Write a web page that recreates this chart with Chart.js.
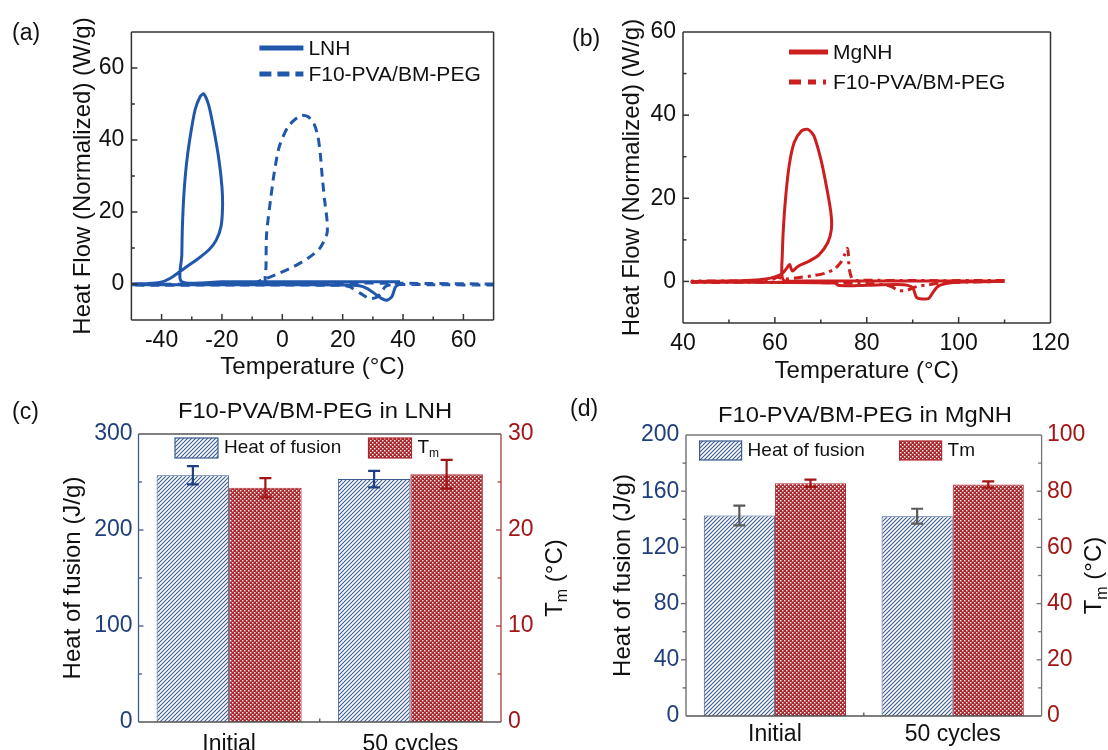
<!DOCTYPE html>
<html>
<head>
<meta charset="utf-8">
<script src="https://cdn.jsdelivr.net/npm/chart.js@4.4.0/dist/chart.umd.min.js"></script>
<style>
body { margin: 0; background: #fff; width: 1108px; height: 750px; overflow: hidden; position: relative;
       font-family: 'Liberation Sans', Arial, sans-serif; color: #111; }
canvas { position: absolute; }
.lbl { position: absolute; font-size: 23px; line-height: 23px; white-space: nowrap; }
.ttl { position: absolute; font-size: 22px; line-height: 22px; width: 420px; text-align: center; white-space: nowrap;
       transform: scaleX(1.08); }
</style>
</head>
<body>
<canvas id="ca" width="554" height="390" style="left:0;top:0"></canvas>
<canvas id="cb" width="554" height="390" style="left:554px;top:0"></canvas>
<canvas id="cc" width="600" height="360" style="left:0;top:390px"></canvas>
<canvas id="cd" width="554" height="360" style="left:554px;top:390px"></canvas>
<div class="lbl" style="left:12px;top:21px">(a)</div>
<div class="lbl" style="left:572px;top:27px">(b)</div>
<div class="lbl" style="left:12px;top:400px">(c)</div>
<div class="lbl" style="left:570px;top:397px">(d)</div>
<div class="ttl" style="left:105px;top:400px">F10-PVA/BM-PEG in LNH</div>
<div class="ttl" style="left:655px;top:404px">F10-PVA/BM-PEG in MgNH</div>
<script>
// (a) LNH loop, cooling then heating
var lnhTemp = [39, 20, 0, -20, -33.4, -33.3, -33.1, -32.6, -31.8, -30.7, -28.9, -27.2, -26.0, -24.3, -22.5, -21.0, -20.0, -19.8, -20.3, -21.9, -24.3, -27.8, -32.4, -37.1, -40.6, -45, -50,
               -50, -40, -20, 0, 20, 25.5, 28, 30.5, 32.8, 34.6, 36.3, 37.5, 39];
var lnhFlow = [0.6, 0.6, 0.6, 0.6, 0.7, 8, 16, 25, 33, 40, 48.4, 52.1, 52.8, 49.4, 42, 34.5, 27, 21.5, 16, 12.2, 9.5, 7.1, 4.4, 1.6, 0.4, 0.1, 0,
               -0.2, -0.2, -0.2, -0.2, -0.3, -0.5, -1.2, -2.6, -4.0, -4.5, -3.5, -0.8, 0];
var lnhPegTemp = [70, 40, 20, 0, -5.4, -5.4, -5.2, -3.9, -2.7, -1.0, 2.0, 6.0, 8.5, 10.5, 11.8, 12.6, 13.2, 14.0, 14.8, 14.8, 12.4, 8.4, 3.7, -1.0, -4.5, -6.8, -9.0, -20, -35, -50,
                  -50, -20, 0, 20, 22.4, 25.9, 28.8, 31.0, 32.8, 34.0, 36.3, 50, 70];
var lnhPegFlow = [0, 0.2, 0.3, 0.4, 0.5, 5, 14, 23.4, 30.8, 38.2, 43.8, 46.8, 46.5, 44.5, 41, 36, 30, 23.4, 17.8, 14.0, 9.9, 7.1, 4.8, 3.0, 1.8, 1.1, 0.4, 0, -0.1, -0.1,
                  -0.3, -0.3, -0.3, -0.4, -0.8, -2.6, -4.0, -3.8, -2.5, -0.8, -0.2, -0.2, -0.3];

// (b) MgNH loop
var mgnhTemp = [110, 90, 75, 65, 62, 61.5, 61.6, 61.8, 62.3, 63.1, 64.2, 65.8, 67.2, 68.5, 70.0, 71.2, 72.2, 72.3, 71.5, 69.6, 67.3, 65.0, 63.8, 63.2, 62.6, 61.5, 60, 58, 55, 50, 42,
                42, 55, 70, 73, 74, 80, 88, 90, 90.8, 92, 93.5, 94.3, 95.5, 98, 103, 110];
var mgnhFlow = [0.1, 0.1, 0.1, 0.1, 0.2, 2, 6, 11.7, 19.7, 27.8, 33.4, 36.2, 36.6, 35, 29.4, 23, 16.5, 12.5, 9.3, 6.4, 4.8, 3.6, 2.5, 4.1, 3.2, 1.8, 1.1, 0.6, 0.3, 0.1, 0,
                -0.2, -0.2, -0.3, -0.4, -1.0, -0.9, -0.8, -1.5, -3.8, -4.2, -4.1, -2.8, -1.2, -0.4, -0.1, 0];
var mgnhPegTemp = [110, 90, 80, 77, 76.2, 76.0, 75.8, 75.2, 74.3, 73, 71, 68.5, 65, 62, 60.5, 59.5, 57, 50, 42,
                   42, 60, 70, 80, 84, 85.5, 87, 88.8, 91, 93.5, 96, 100, 110];
var mgnhPegFlow = [0.2, 0.2, 0.3, 0.4, 3, 6.5, 8, 6.5, 4.5, 3, 2, 1.4, 0.9, 0.6, 1.0, 0.5, 0.2, 0.1, 0.1,
                   -0.2, -0.2, -0.3, -0.5, -0.8, -1.3, -2.2, -2.1, -1.2, -0.8, -0.4, -0.2, 0];

// (c), (d) bars
var cycleLabels = ['Initial', '50 cycles'];
var lnhHeat = [257, 253], lnhHeatErr = [9.5, 8.5];
var lnhTm = [24.4, 25.8], lnhTmErr = [1.0, 1.5];
var mgnhHeat = [142.7, 142.2], mgnhHeatErr = [7, 5.3];
var mgnhTm = [82.8, 82.4], mgnhTmErr = [1.3, 1.1];

var FONT = "'Liberation Sans', Arial, sans-serif";
var BLUE = '#2057ab', RED = '#cc1e1e';
var AXBLUE = '#1f3f7c', AXRED = '#a31515';
Chart.defaults.font.family = FONT;
Chart.defaults.color = '#111';

function pts(xs, ys) {
    return xs.map(function(x, i) { return {x: x, y: ys[i]}; });
}

function hatch() {
    var c = document.createElement('canvas');
    c.width = 4; c.height = 4;
    var g = c.getContext('2d');
    g.fillStyle = '#fff'; g.fillRect(0, 0, 4, 4);
    g.strokeStyle = '#3a5a90'; g.lineWidth = 1.1;
    g.beginPath();
    g.moveTo(0, 4); g.lineTo(4, 0);
    g.moveTo(-2, 2); g.lineTo(2, -2);
    g.moveTo(2, 6); g.lineTo(6, 2);
    g.stroke();
    return g.createPattern(c, 'repeat');
}

function checks() {
    var c = document.createElement('canvas');
    c.width = 4; c.height = 4;
    var g = c.getContext('2d');
    g.fillStyle = '#a8282e'; g.fillRect(0, 0, 4, 4);
    g.fillStyle = '#fff';
    g.fillRect(0, 0, 1.4, 1.4);
    g.fillRect(2, 2, 1.4, 1.4);
    return g.createPattern(c, 'repeat');
}

function subText(ctx, x, y, base, sub, rest, size) {
    ctx.font = size + 'px ' + FONT;
    ctx.fillText(base, x, y);
    var w = ctx.measureText(base).width;
    ctx.font = Math.round(size * 0.65) + 'px ' + FONT;
    ctx.fillText(sub, x + w, y + size * 0.32);
    w += ctx.measureText(sub).width;
    if (rest) {
        ctx.font = size + 'px ' + FONT;
        ctx.fillText(rest, x + w, y);
    }
}

// box and tick marks
var frame = {
    id: 'frame',
    afterDraw: function(chart, args, o) {
        var ctx = chart.ctx, a = chart.chartArea;
        ctx.save();
        ctx.lineWidth = o.width || 1.5;
        var e = o.edges;
        function seg(x1, y1, x2, y2, col) {
            ctx.strokeStyle = col;
            ctx.beginPath(); ctx.moveTo(x1, y1); ctx.lineTo(x2, y2); ctx.stroke();
        }
        seg(a.left, a.top, a.right, a.top, e.top);
        seg(a.left, a.bottom, a.right, a.bottom, e.bottom);
        seg(a.left, a.top, a.left, a.bottom, e.left);
        seg(a.right, a.top, a.right, a.bottom, e.right);
        Object.keys(chart.scales).forEach(function(id) {
            var s = chart.scales[id];
            var sign = ((o.dirs && o.dirs[id]) || 'in') === 'in' ? 1 : -1;
            var col = (o.tickColors && o.tickColors[id]) || e[s.position];
            if (s.type === 'category') {
                // one mark between the two groups
                var n = s.ticks.length;
                for (var k = 1; k < n; k++) {
                    var m = (s.getPixelForValue(k - 1) + s.getPixelForValue(k)) / 2;
                    seg(m, a.bottom, m, a.bottom - sign * o.minor, col);
                }
                return;
            }
            s.ticks.forEach(function(t) {
                var p = s.getPixelForValue(t.value);
                var len = t.label === '' ? o.minor : o.major;
                if (s.position === 'bottom') {
                    if (p <= a.left + 1 || p >= a.right - 1) return;
                    seg(p, a.bottom, p, a.bottom - sign * len, col);
                } else if (s.position === 'left') {
                    if (p <= a.top + 1 || p >= a.bottom - 1) return;
                    seg(a.left, p, a.left + sign * len, p, col);
                } else if (s.position === 'right') {
                    if (p <= a.top + 1 || p >= a.bottom - 1) return;
                    seg(a.right, p, a.right - sign * len, p, col);
                }
            });
        });
        ctx.restore();
    }
};

var lineLegend = {
    id: 'lineLegend',
    afterDraw: function(chart, args, o) {
        if (!o.rows) return;
        var ctx = chart.ctx, a = chart.chartArea;
        ctx.save();
        ctx.textBaseline = 'middle';
        ctx.font = o.size + 'px ' + FONT;
        o.rows.forEach(function(r, i) {
            var ds = chart.data.datasets[i];
            var y = a.top + r;
            ctx.strokeStyle = ds.borderColor;
            ctx.lineWidth = 5;
            ctx.setLineDash(o.dash[i]);
            ctx.beginPath();
            ctx.moveTo(a.left + o.x0, y); ctx.lineTo(a.left + o.x1, y);
            ctx.stroke();
            ctx.setLineDash([]);
            ctx.fillStyle = '#111';
            ctx.fillText(ds.label, a.left + o.tx, y + 1);
        });
        ctx.restore();
    }
};

var barLegend = {
    id: 'barLegend',
    afterDraw: function(chart, args, o) {
        if (!o.items) return;
        var ctx = chart.ctx, a = chart.chartArea;
        ctx.save();
        ctx.textBaseline = 'middle';
        o.items.forEach(function(it, i) {
            var ds = chart.data.datasets[i];
            var x = a.left + it.x, y = a.top + o.y;
            ctx.fillStyle = ds.backgroundColor;
            ctx.fillRect(x, y, o.w, o.h);
            ctx.strokeStyle = ds.borderColor; ctx.lineWidth = 1.2;
            ctx.strokeRect(x, y, o.w, o.h);
            ctx.fillStyle = '#111';
            if (it.sub) subText(ctx, x + o.w + 6, y + o.h / 2, it.text, it.sub, '', o.size);
            else { ctx.font = o.size + 'px ' + FONT; ctx.fillText(it.text, x + o.w + 6, y + o.h / 2); }
        });
        ctx.restore();
    }
};

var errorBars = {
    id: 'errorBars',
    afterDatasetsDraw: function(chart, args, o) {
        if (!o.sets) return;
        var ctx = chart.ctx;
        ctx.save();
        ctx.lineWidth = 2.2;
        o.sets.forEach(function(set, di) {
            var meta = chart.getDatasetMeta(di);
            var s = chart.scales[meta.yAxisID];
            var vals = chart.data.datasets[di].data;
            ctx.strokeStyle = set.color;
            meta.data.forEach(function(bar, i) {
                var yt = s.getPixelForValue(vals[i] + set.err[i]);
                var yb = s.getPixelForValue(vals[i] - set.err[i]);
                ctx.beginPath();
                ctx.moveTo(bar.x, yt); ctx.lineTo(bar.x, yb);
                ctx.moveTo(bar.x - 6, yt); ctx.lineTo(bar.x + 6, yt);
                ctx.moveTo(bar.x - 6, yb); ctx.lineTo(bar.x + 6, yb);
                ctx.stroke();
            });
        });
        ctx.restore();
    }
};

var rightTitle = {
    id: 'rightTitle',
    afterDraw: function(chart, args, o) {
        if (!o.x) return;
        var ctx = chart.ctx, a = chart.chartArea;
        ctx.save();
        ctx.translate(o.x, (a.top + a.bottom) / 2);
        ctx.rotate(-Math.PI / 2);
        ctx.textBaseline = 'middle';
        ctx.fillStyle = '#111';
        ctx.font = '24px ' + FONT;
        var w = ctx.measureText('T').width + ctx.measureText(' (°C)').width;
        ctx.font = '16px ' + FONT;
        w += ctx.measureText('m').width;
        subText(ctx, -w / 2, 0, 'T', 'm', ' (°C)', 24);
        ctx.restore();
    }
};

Chart.register(frame, lineLegend, barLegend, errorBars, rightTitle);

function tickCb(step, lo, hi) {
    return function(v) {
        return (Math.abs(v % step) < 1e-6 && v >= lo && v <= hi) ? String(v) : '';
    };
}

var NOGRID = { display: false, drawTicks: false };

function dscChart(id, sets, xr, yr, pad, yw, xh, legend, xtitlePad, ytitlePad) {
    return new Chart(document.getElementById(id), {
        type: 'scatter',
        data: { datasets: sets },
        options: {
            responsive: false,
            animation: false,
            layout: { padding: pad },
            elements: { point: { radius: 0 } },
            plugins: {
                legend: { display: false },
                tooltip: { enabled: false },
                frame: { edges: { top: '#333', bottom: '#333', left: '#333', right: '#333' },
                         major: 6, minor: 3.5, width: 1.5 },
                lineLegend: legend
            },
            scales: {
                x: {
                    type: 'linear', min: xr[0], max: xr[1],
                    afterFit: function(s) { s.height = xh; },
                    grid: NOGRID, border: { display: false },
                    ticks: { stepSize: 10, autoSkip: false, maxRotation: 0, padding: 7,
                             font: { size: 23 }, color: '#111', callback: tickCb(20, xr[2], xr[3]) },
                    title: { display: true, text: 'Temperature (°C)', font: { size: 24 }, color: '#111',
                             padding: { top: 0, bottom: xtitlePad } }
                },
                y: {
                    type: 'linear', min: yr[0], max: yr[1],
                    afterFit: function(s) { s.width = yw; },
                    grid: NOGRID, border: { display: false },
                    ticks: { stepSize: 10, autoSkip: false, padding: 7,
                             font: { size: 23 }, color: '#111', callback: tickCb(20, 0, 60) },
                    title: { display: true, text: 'Heat Flow (Normalized) (W/g)', font: { size: 24 }, color: '#111',
                             padding: { top: ytitlePad, bottom: 0 } }
                }
            }
        }
    });
}

function loop(label, xs, ys, color, dash) {
    return { label: label, data: pts(xs, ys), showLine: true, borderColor: color, borderWidth: 3,
             borderDash: dash, tension: 0.25, pointRadius: 0, fill: false };
}

dscChart('ca', [
    loop('LNH', lnhTemp, lnhFlow, BLUE, []),
    loop('F10-PVA/BM-PEG', lnhPegTemp, lnhPegFlow, BLUE, [9, 6])
], [-50, 70, -40, 60], [-10, 70], { left: 0, top: 32, right: 60.4, bottom: 0 }, 131.4, 70,
   { rows: [16, 42], x0: 128, x1: 172, tx: 177, size: 21, dash: [[], [12, 6]] }, 8.6, 68.6);

dscChart('cb', [
    loop('MgNH', mgnhTemp, mgnhFlow, RED, []),
    loop('F10-PVA/BM-PEG', mgnhPegTemp, mgnhPegFlow, RED, [9, 5, 3, 5])
], [40, 120, 40, 120], [-10, 60], { left: 0, top: 32, right: 57.5, bottom: 0 }, 129, 67,
   { rows: [20, 50], x0: 106, x1: 145, tx: 150, size: 21, dash: [[], [12, 7, 8, 7, 3, 10]] }, 4, 64);

function barChart(id, heat, heatErr, tm, tmErr, lr, rr, pad, lw, rw, xh, opts) {
    return new Chart(document.getElementById(id), {
        type: 'bar',
        data: {
            labels: cycleLabels,
            datasets: [
                { label: 'Heat of fusion', data: heat, yAxisID: 'y', backgroundColor: hatch(),
                  borderColor: '#3a5a90', borderWidth: 1, barPercentage: 1, categoryPercentage: 0.8 },
                { label: 'Tm', data: tm, yAxisID: 'y1', backgroundColor: checks(),
                  borderColor: '#b0282e', borderWidth: 1, barPercentage: 1, categoryPercentage: 0.8 }
            ]
        },
        options: {
            responsive: false,
            animation: false,
            layout: { padding: pad },
            plugins: {
                legend: { display: false },
                tooltip: { enabled: false },
                frame: { edges: opts.edges, tickColors: opts.tickColors, dirs: opts.dirs, major: 5, minor: 3.5, width: 1.3 },
                barLegend: opts.legend,
                errorBars: { sets: [{ err: heatErr, color: opts.heatErrColor }, { err: tmErr, color: AXRED }] },
                rightTitle: { x: opts.rtx }
            },
            scales: {
                x: {
                    afterFit: function(s) { s.height = xh; },
                    grid: NOGRID, border: { display: false },
                    ticks: { font: { size: 23 }, color: '#111', padding: opts.xpad }
                },
                y: {
                    position: 'left', min: 0, max: lr[0],
                    afterFit: function(s) { s.width = lw; },
                    grid: NOGRID, border: { display: false },
                    ticks: { stepSize: lr[1], autoSkip: false, padding: opts.lpad, font: { size: 23 }, color: AXBLUE,
                             callback: tickCb(lr[2], 0, lr[0]) },
                    title: { display: true, text: 'Heat of fusion (J/g)', font: { size: 24 }, color: '#111',
                             padding: { top: opts.ltp, bottom: 0 } }
                },
                y1: {
                    position: 'right', min: 0, max: rr[0],
                    afterFit: function(s) { s.width = rw; },
                    grid: NOGRID, border: { display: false },
                    ticks: { stepSize: rr[1], autoSkip: false, padding: opts.rpad, font: { size: 23 }, color: AXRED,
                             callback: tickCb(rr[2], 0, rr[0]) }
                }
            }
        }
    });
}

barChart('cc', lnhHeat, lnhHeatErr, lnhTm, lnhTmErr, [300, 50, 100], [30, 5, 10],
    { left: 0, top: 44, right: 0, bottom: 0 }, 138.5, 99, 28, {
        edges: { top: '#555', bottom: '#555', left: '#3d5c8c', right: '#b03a3a' },
        tickColors: { x: '#555', y: '#3d5c8c', y1: '#b03a3a' },
        dirs: { x: 'in', y: 'in', y1: 'in' },
        legend: { y: 4, w: 43, h: 20, size: 19, items: [{ x: 36.5, text: 'Heat of fusion' }, { x: 230, text: 'T', sub: 'm' }] },
        heatErrColor: '#1e3f80', rtx: 555, ltp: 58.6, xpad: 9, lpad: 6, rpad: 7
    });

barChart('cd', mgnhHeat, mgnhHeatErr, mgnhTm, mgnhTmErr, [200, 20, 40], [100, 10, 20],
    { left: 0, top: 45, right: 0, bottom: 0 }, 132, 66.4, 34, {
        edges: { top: '#777', bottom: '#555', left: '#666', right: '#777' },
        tickColors: { x: '#555', y: '#666', y1: '#777' },
        dirs: { x: 'in', y: 'out', y1: 'in' },
        legend: { y: 6, w: 42, h: 19, size: 19, items: [{ x: 13.6, text: 'Heat of fusion' }, { x: 213.6, text: 'Tm' }] },
        heatErrColor: '#5a5a5a', rtx: 540.5, ltp: 54.6, xpad: 5, lpad: 6.6, rpad: 5.4
    });
</script>
</body>
</html>
